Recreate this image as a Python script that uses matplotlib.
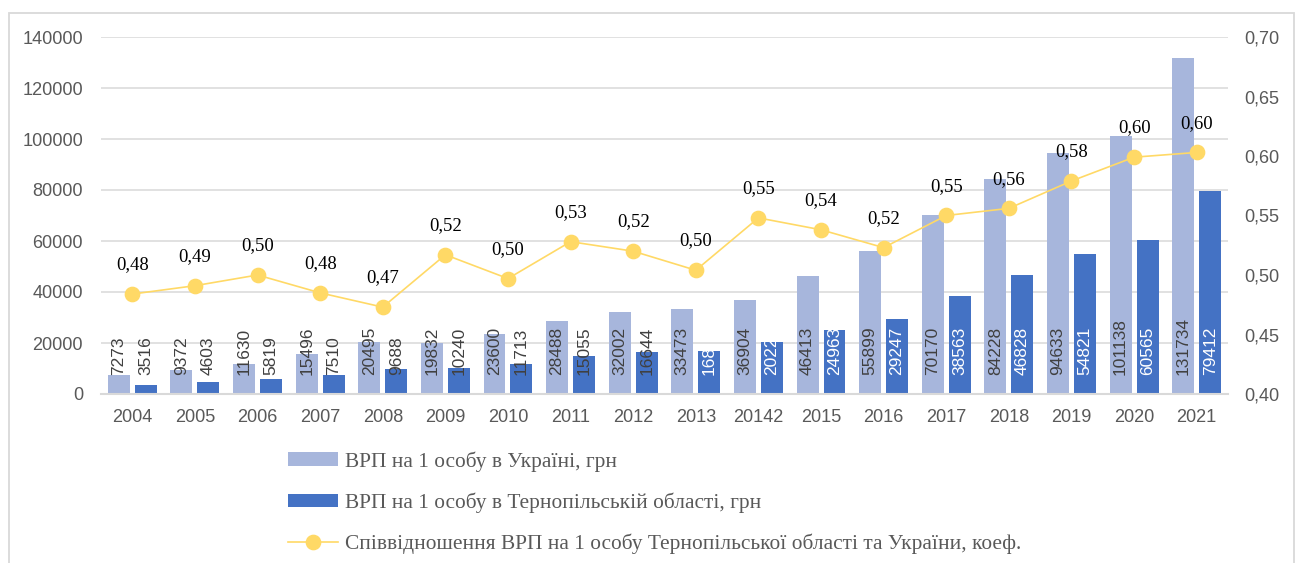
import numpy as np
import matplotlib
matplotlib.use("Agg")
import matplotlib.pyplot as plt
from matplotlib.patches import Rectangle, Patch
from matplotlib.lines import Line2D

plt.rcParams['font.family'] = ['Liberation Sans', 'DejaVu Sans']

years = ["2004", "2005", "2006", "2007", "2008", "2009", "2010", "2011", "2012",
         "2013", "20142", "2015", "2016", "2017", "2018", "2019", "2020", "2021"]
ukraine = [7273, 9372, 11630, 15496, 20495, 19832, 23600, 28488, 32002,
           33473, 36904, 46413, 55899, 70170, 84228, 94633, 101138, 131734]
ternopil = [3516, 4603, 5819, 7510, 9688, 10240, 11713, 15055, 16644,
            16870, 20225, 24963, 29247, 38563, 46828, 54821, 60565, 79412]
ternopil_labels = ["3516", "4603", "5819", "7510", "9688", "10240", "11713", "15055", "16644",
                   "168", "2022", "24963", "29247", "38563", "46828", "54821", "60565", "79412"]
ratio = [0.484, 0.491, 0.500, 0.485, 0.473, 0.517, 0.497, 0.528, 0.520,
         0.504, 0.548, 0.538, 0.523, 0.550, 0.556, 0.579, 0.599, 0.603]

leg_labels = ["ВРП на 1 особу в Україні, грн",
              "ВРП на 1 особу в Тернопільській області, грн",
              "Співвідношення ВРП на 1 особу Тернопільської області та України, коеф."]

C_LIGHT = "#A7B6DC"
C_DARK = "#4472C4"
C_LINE = "#FFD966"
C_GRID = "#D9D9D9"
C_TEXT = "#595959"
WHITE_FROM = 9

W, H = 1305, 563
fig = plt.figure(figsize=(W / 100, H / 100), dpi=100)
fig.patches.append(Rectangle((8.5 / W, -0.05), (1294 - 8.5) / W, 1.05 - 13 / H,
                             transform=fig.transFigure, fill=False,
                             edgecolor=C_GRID, linewidth=1.3))

ax = fig.add_axes([101 / W, 1 - 394 / H, (1228 - 101) / W, (394 - 37) / H])
x = np.arange(len(years))
bw = 0.35
off = 0.215
ax.bar(x - off, ukraine, bw, color=C_LIGHT, zorder=2)
ax.bar(x + off, ternopil, bw, color=C_DARK, zorder=2)

fs = 13.1
lfs = 12.5
for i in range(len(years)):
    ax.annotate(str(ukraine[i]), (x[i] - off, 0), xytext=(0, 13.7), textcoords="offset points",
                rotation=90, ha="center", va="bottom", fontsize=lfs, color="#404040", zorder=3)
    ax.annotate(ternopil_labels[i], (x[i] + off, 0), xytext=(0, 13.7), textcoords="offset points",
                rotation=90, ha="center", va="bottom", fontsize=lfs,
                color="white" if i >= WHITE_FROM else "#404040", zorder=3)

ax.set_xlim(-0.5, len(years) - 0.5)
ax.set_ylim(0, 140000)
ax.set_yticks(np.arange(0, 140001, 20000))
ax.set_yticklabels([str(v) for v in range(0, 140001, 20000)])
ax.set_xticks(x)
ax.set_xticklabels(years)
ax.tick_params(axis="both", length=0, labelsize=fs, labelcolor=C_TEXT)
ax.tick_params(axis="y", pad=13)
ax.tick_params(axis="x", pad=10.5)
ax.yaxis.grid(True, color=C_GRID, linewidth=1.1)
ax.set_axisbelow(True)
for s in ["top", "left", "right"]:
    ax.spines[s].set_visible(False)
ax.spines["bottom"].set_color(C_GRID)
ax.spines["bottom"].set_linewidth(1.5)

ax2 = ax.twinx()
ax2.plot(x, ratio, color=C_LINE, linewidth=1.2, marker="o", markersize=10.3,
         markerfacecolor=C_LINE, markeredgecolor=C_LINE, zorder=4)
for i, v in enumerate(ratio):
    ax2.annotate(f"{v:.2f}".replace(".", ","), (x[i], v), xytext=(0, 21),
                 textcoords="offset points", ha="center", va="center",
                 fontsize=13.5, family=["Liberation Serif"], color="black")
ax2.set_ylim(0.40, 0.70)
rt = np.arange(0.40, 0.7001, 0.05)
ax2.set_yticks(rt)
ax2.set_yticklabels([f"{v:.2f}".replace(".", ",") for v in rt])
ax2.tick_params(axis="y", length=0, labelsize=fs, labelcolor=C_TEXT, pad=12)
for s in ax2.spines.values():
    s.set_visible(False)

handles = [Patch(facecolor=C_LIGHT, edgecolor="none"),
           Patch(facecolor=C_DARK, edgecolor="none"),
           Line2D([0], [0], color=C_LINE, linewidth=1.2, marker="o", markersize=10.3,
                  markerfacecolor=C_LINE, markeredgecolor=C_LINE)]
leg = fig.legend(handles, leg_labels, loc="upper left",
                 bbox_to_anchor=(288 / W, 1 - 451 / H), frameon=False,
                 prop={"family": "Liberation Serif", "size": 15.4},
                 handlelength=2.35, handleheight=0.58, handletextpad=0.32,
                 labelspacing=0.98, borderpad=0, borderaxespad=0)
for t in leg.get_texts():
    t.set_color(C_TEXT)

fig.savefig("out.png", dpi=100)
